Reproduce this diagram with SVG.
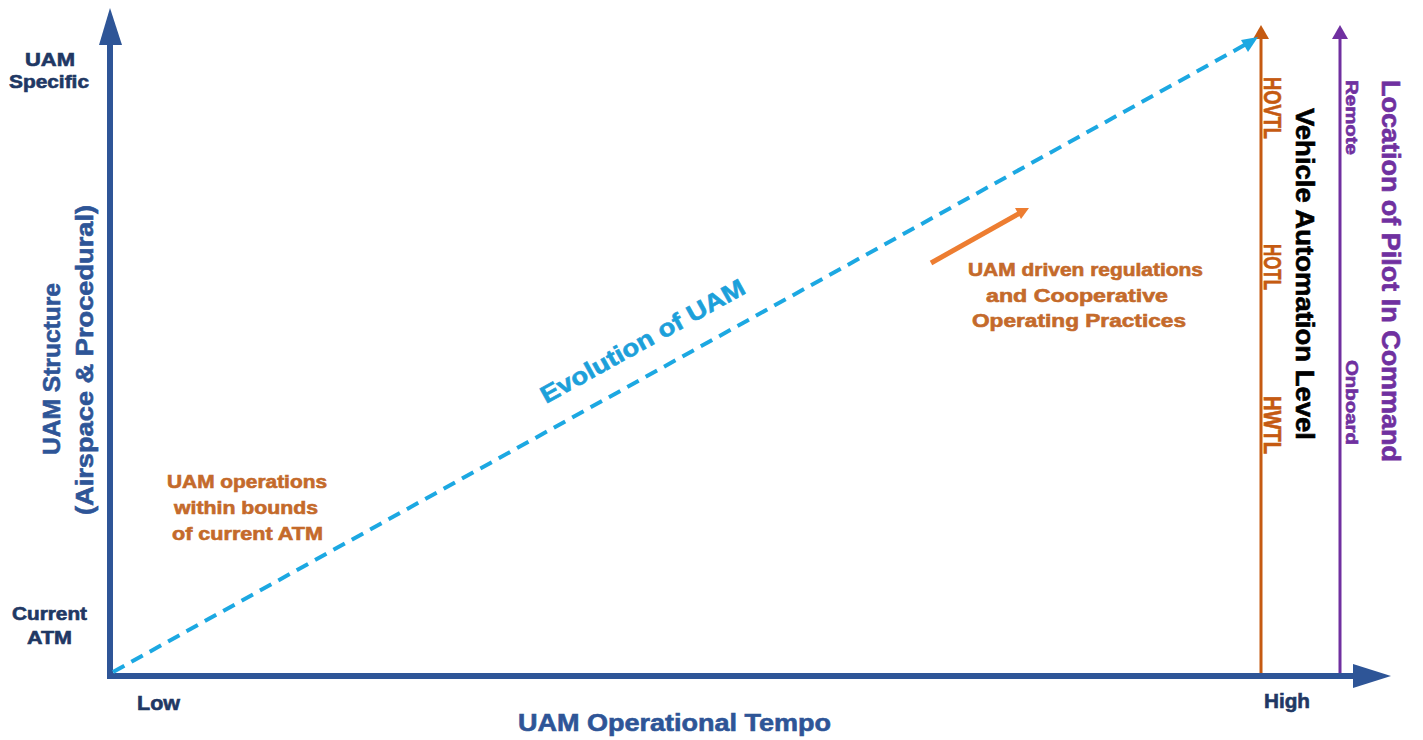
<svg xmlns="http://www.w3.org/2000/svg" width="1423" height="740" viewBox="0 0 1423 740">
<style>
text{font-family:"Liberation Sans",Arial,sans-serif;font-weight:bold;stroke-width:0.6px;paint-order:stroke}
.ax{fill:#1F3864;stroke:#1F3864;font-size:18px}
.axt{fill:#2E5597;stroke:#2E5597;font-size:24px}
.or{fill:#C46A2B;stroke:#C46A2B;font-size:18px}
.lv{fill:#C55A11;stroke:#C55A11;font-size:23px}
.pu{fill:#7030A0;stroke:#7030A0}
.bk{fill:#000000;stroke:#000000;font-size:25px}
.ev{fill:#1CA0DA;stroke:#1CA0DA;font-size:24px}
</style>
<rect width="1423" height="740" fill="#ffffff"/>
<g id="connectors">
  <path d="M110,676 L110,42" stroke="#2E5597" stroke-width="6" fill="none"/>
  <path d="M99,45 L110,8 L122,45 z" fill="#2E5597"/>
  <path d="M107,676 L1356,676" stroke="#2E5597" stroke-width="6" fill="none"/>
  <path d="M1353,664 L1391,676 L1353,688 z" fill="#2E5597"/>
  <path d="M1261,673 L1261,36" stroke="#C55A11" stroke-width="3" fill="none"/>
  <path d="M1253,39 L1261,25 L1269,39 z" fill="#C55A11"/>
  <path d="M1340,673 L1340,36" stroke="#7030A0" stroke-width="3" fill="none"/>
  <path d="M1332,39 L1340,25 L1348,39 z" fill="#7030A0"/>
  <path d="M113,672 L1250,42" stroke="#1CA8E2" stroke-width="4" stroke-dasharray="13,8" fill="none"/>
  <path d="M1258,37 L1241,40 L1248,52 z" fill="#1CA8E2"/>
  <path d="M931,263 L1020,213" stroke="#ED7D31" stroke-width="5" fill="none"/>
  <path d="M1029,208 L1015,208 L1021,219 z" fill="#ED7D31"/>
</g>
<g id="y-axis-labels">
  <text class="ax" x="25" y="66" textLength="50" lengthAdjust="spacingAndGlyphs">UAM</text>
  <text class="ax" x="9" y="88" textLength="80" lengthAdjust="spacingAndGlyphs">Specific</text>
  <text class="ax" x="12" y="620" textLength="75" lengthAdjust="spacingAndGlyphs">Current</text>
  <text class="ax" x="27" y="644" textLength="45" lengthAdjust="spacingAndGlyphs">ATM</text>
  <text class="axt" transform="translate(60,455) rotate(-90)" textLength="172" lengthAdjust="spacingAndGlyphs">UAM Structure</text>
  <text class="axt" transform="translate(93,515) rotate(-90)" textLength="310" lengthAdjust="spacingAndGlyphs">(Airspace &amp; Procedural)</text>
</g>
<g id="x-axis-labels">
  <text class="ax" x="137" y="710" style="font-size:20px" textLength="43" lengthAdjust="spacingAndGlyphs">Low</text>
  <text class="ax" x="1264" y="708" style="font-size:20px" textLength="46" lengthAdjust="spacingAndGlyphs">High</text>
  <text class="axt" x="518" y="731" textLength="313" lengthAdjust="spacingAndGlyphs">UAM Operational Tempo</text>
</g>
<g id="evolution-label">
  <text class="ev" transform="translate(546,404) rotate(-29)" textLength="230" lengthAdjust="spacingAndGlyphs">Evolution of UAM</text>
</g>
<g id="current-atm-note">
  <text class="or" x="167" y="488" textLength="160" lengthAdjust="spacingAndGlyphs">UAM operations</text>
  <text class="or" x="174" y="514" textLength="144" lengthAdjust="spacingAndGlyphs">within bounds</text>
  <text class="or" x="172" y="540" textLength="151" lengthAdjust="spacingAndGlyphs">of current ATM</text>
</g>
<g id="regulation-note">
  <text class="or" x="968" y="276" textLength="235" lengthAdjust="spacingAndGlyphs">UAM driven regulations</text>
  <text class="or" x="986" y="302" textLength="182" lengthAdjust="spacingAndGlyphs">and Cooperative</text>
  <text class="or" x="972" y="327" textLength="214" lengthAdjust="spacingAndGlyphs">Operating Practices</text>
</g>
<g id="automation-levels">
  <text class="lv" transform="translate(1264,77) rotate(90)" textLength="62" lengthAdjust="spacingAndGlyphs">HOVTL</text>
  <text class="lv" transform="translate(1264,244) rotate(90)" textLength="46" lengthAdjust="spacingAndGlyphs">HOTL</text>
  <text class="lv" transform="translate(1264,396) rotate(90)" textLength="58" lengthAdjust="spacingAndGlyphs">HWTL</text>
  <text class="bk" transform="translate(1296,108) rotate(90)" textLength="332" lengthAdjust="spacingAndGlyphs">Vehicle Automation Level</text>
</g>
<g id="pilot-location">
  <text class="pu" transform="translate(1346,80) rotate(90)" textLength="75" lengthAdjust="spacingAndGlyphs" style="font-size:16px">Remote</text>
  <text class="pu" transform="translate(1346,360) rotate(90)" textLength="85" lengthAdjust="spacingAndGlyphs" style="font-size:16px">Onboard</text>
  <text class="pu" transform="translate(1382,80) rotate(90)" textLength="382" lengthAdjust="spacingAndGlyphs" style="font-size:25px">Location of Pilot In Command</text>
</g>
</svg>
